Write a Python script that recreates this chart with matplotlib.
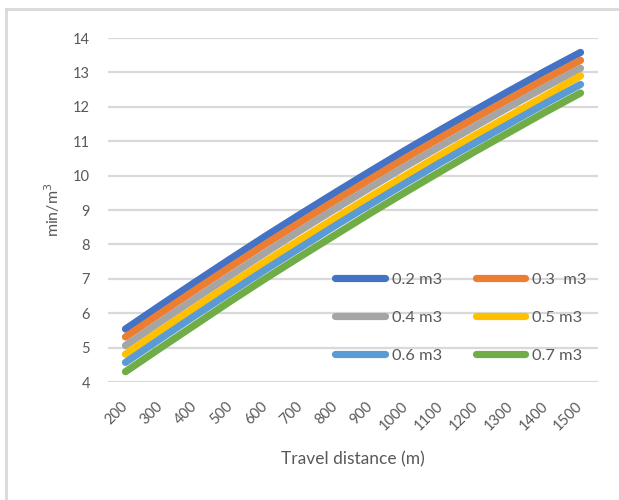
import matplotlib
matplotlib.use("Agg")
import matplotlib.pyplot as plt
from matplotlib.lines import Line2D

plt.rcParams['font.family'] = ['Lato', 'DejaVu Sans']

distances = [200, 300, 400, 500, 600, 700, 800, 900, 1000, 1100, 1200, 1300, 1400, 1500]

s_02 = [5.54, 6.23, 6.91, 7.58, 8.24, 8.88, 9.51, 10.13, 10.74, 11.33, 11.91, 12.48, 13.04, 13.58]
s_03 = [5.31, 6.00, 6.68, 7.35, 8.01, 8.65, 9.28, 9.90, 10.51, 11.10, 11.68, 12.25, 12.81, 13.35]
s_04 = [5.06, 5.75, 6.43, 7.10, 7.76, 8.41, 9.04, 9.66, 10.27, 10.86, 11.44, 12.02, 12.58, 13.12]
s_05 = [4.81, 5.50, 6.18, 6.85, 7.50, 8.14, 8.77, 9.39, 10.00, 10.60, 11.18, 11.75, 12.32, 12.90]
s_06 = [4.57, 5.26, 5.94, 6.61, 7.27, 7.91, 8.55, 9.17, 9.78, 10.38, 10.96, 11.53, 12.10, 12.65]
s_07 = [4.30, 4.99, 5.67, 6.35, 7.01, 7.65, 8.28, 8.91, 9.52, 10.12, 10.71, 11.28, 11.85, 12.40]

series_labels = ['0.2 m3', '0.3  m3', '0.4 m3', '0.5 m3', '0.6 m3', '0.7 m3']
series_values = [s_02, s_03, s_04, s_05, s_06, s_07]
colors = ['#4472C4', '#ED7D31', '#A5A5A5', '#FFC000', '#5B9BD5', '#70AD47']

y_ticks = list(range(4, 15))

text_color = '#595959'
grid_color = '#D9D9D9'

fig = plt.figure(figsize=(6.19, 5.0), dpi=100)
ax = fig.add_axes([108 / 619, 1 - 382 / 500, 490 / 619, 344 / 500])

x = list(range(len(distances)))
for vals, lab, col in zip(series_values, series_labels, colors):
    ax.plot(x, vals, color=col, lw=5.2, solid_capstyle='round',
            solid_joinstyle='round', label=lab, zorder=3)

ax.set_xlim(-0.5, len(distances) - 0.5)
ax.set_ylim(4, 14)
ax.set_yticks(y_ticks)
ax.set_yticklabels([str(v) for v in y_ticks])
ax.yaxis.grid(True, color=grid_color, lw=1.6)
ax.set_axisbelow(True)
for sp in ax.spines.values():
    sp.set_visible(False)
ax.tick_params(axis='both', length=0, colors=text_color, labelsize=10.5)
ax.tick_params(axis='y', pad=13)

ax.set_xticks(x)
ax.set_xticklabels([str(d) for d in distances], rotation=45, ha='right',
                   va='center', rotation_mode='anchor')
ax.tick_params(axis='x', pad=16)

ax.set_xlabel('Travel distance (m)', color=text_color, fontsize=12.5, labelpad=13)
ax.set_ylabel('min/m$^3$', color=text_color, fontsize=11.5)
ax.yaxis.set_label_coords(-0.094, 0.5)

# legend in two columns: left column 0.2/0.4/0.6, right column 0.3/0.5/0.7
order = [0, 2, 4, 1, 3, 5]
leg_handles = [Line2D([0], [0], color=colors[i], lw=5.2, solid_capstyle='round')
               for i in order]
leg = ax.legend(leg_handles, [series_labels[i] for i in order], ncol=2,
                frameon=False, fontsize=11.8, handlelength=3.0, handletextpad=0.42,
                columnspacing=2.1, labelspacing=1.42,
                loc='upper left', bbox_to_anchor=((320.7 - 108) / 490, (382 - 258) / 344))
for t in leg.get_texts():
    t.set_color(text_color)

# outer chart border (left and top edges)
fig.add_artist(Line2D([6 / 619, 6 / 619], [0, 1 - 9 / 500], transform=fig.transFigure,
                      color=grid_color, lw=2))
fig.add_artist(Line2D([6 / 619, 1], [1 - 9 / 500, 1 - 9 / 500], transform=fig.transFigure,
                      color=grid_color, lw=2))

fig.savefig('out.png', dpi=100)
